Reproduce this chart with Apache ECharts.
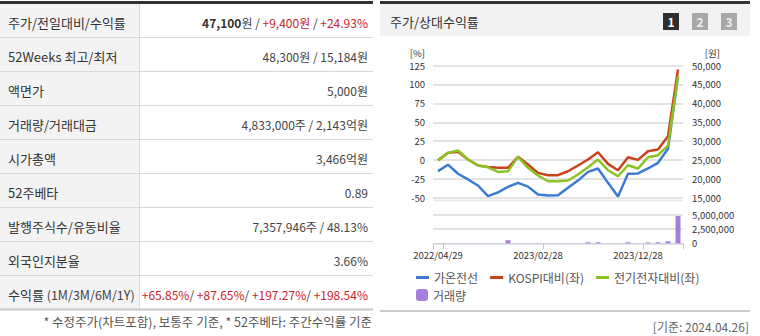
<!DOCTYPE html>
<html><head><meta charset="utf-8">
<script src="https://cdn.jsdelivr.net/npm/echarts@6/dist/echarts.min.js"></script>
<style>html,body{margin:0;padding:0;background:#fff}#c{width:760px;height:336px}</style>
</head><body><div id="c"></div>
<script>
// ---- chart data ----
const dates = ['2022/04/29','2022/05/31','2022/06/30','2022/07/29','2022/08/31','2022/09/30','2022/10/31','2022/11/30','2022/12/29','2023/01/31','2023/02/28','2023/03/31','2023/04/28','2023/05/31','2023/06/30','2023/07/31','2023/08/31','2023/09/27','2023/10/31','2023/11/30','2023/12/28','2024/01/31','2024/02/29','2024/03/29','2024/04/26'];
const priceWon = [22100,23800,21400,19900,18300,15500,16500,17950,19000,18000,15900,15650,15700,17700,19600,21900,22800,19000,15400,21400,21500,22800,24300,28000,47100];
const kospiRel = [0,9.6,11.0,0.8,-7.1,-8.9,-10.2,-10.2,4.4,-5.8,-16.8,-19.9,-19.9,-14.7,-7.1,0.8,10.4,-4.9,-13.3,3.8,0.4,11.8,14.0,31.6,119.7];
const sectorRel = [0,9.6,12.7,0.8,-7.1,-9.5,-15.5,-14.7,4.4,-10.2,-20.3,-27.9,-27.9,-26.9,-19.0,-9.4,0.8,-13.3,-21.3,-6.7,-11.1,3.8,6.5,19.3,110.8];
const volume = [20000,20000,20000,20000,20000,20000,20000,550000,20000,20000,20000,20000,20000,20000,20000,180000,180000,20000,20000,180000,20000,150000,180000,360000,4833000];
const seriesNames = ['가온전선','KOSPI대비(좌)','전기전자대비(좌)','거래량'];
const pctAxis = {min:-50, max:125, step:25};
const wonAxis = {min:15000, max:50000, step:5000};
const volAxis = {min:0, max:5000000, step:2500000};
const xLabelEvery = 10;
const xTickIdx = [0,1,11,21];

// ---- table data ----
const tableLabels = ['주가/전일대비/수익률','52Weeks 최고/최저','액면가','거래량/거래대금','시가총액','52주베타','발행주식수/유동비율','외국인지분율','수익률'];
const returnPeriods = ' (1M/3M/6M/1Y)';
const priceNow = '47,100', priceChg = '+9,400원', priceRet = '+24.93%';
const tableValues = ['','48,300원 / 15,184원','5,000원','4,833,000주 / 2,143억원','3,466억원','0.89','7,357,946주 / 48.13%','3.66%',''];
const periodReturns = ['+65.85%','+87.65%','+197.27%','+198.54%'];
const footNote = '* 수정주가(차트포함), 보통주 기준, * 52주베타: 주간수익률 기준';
const panelTitle = '주가/상대수익률';
const baseDate = '[기준: 2024.04.26]';

const FF = '"Noto Sans CJK KR", "Noto Sans", sans-serif';
const fmt = v => Number(v).toLocaleString('en-US');

const g = [];
// left table
const rowB = [4, 37.5, 71.5, 105.5, 139.5, 173.5, 207.5, 241.5, 275.5, 309.5];
g.push({type:'rect', shape:{x:0,y:4,width:139,height:305}, style:{fill:'#f3f3f3'}, silent:true});
g.push({type:'rect', shape:{x:0,y:1,width:373,height:3}, style:{fill:'#333'}, silent:true});
for (let i=1;i<rowB.length-1;i++) g.push({type:'line', shape:{x1:0,y1:rowB[i],x2:373,y2:rowB[i]}, style:{stroke:'#d8d8d8',lineWidth:1}, silent:true});
g.push({type:'line', shape:{x1:139.5,y1:4,x2:139.5,y2:309}, style:{stroke:'#d8d8d8',lineWidth:1}, silent:true});
g.push({type:'rect', shape:{x:0,y:308.5,width:373,height:2}, style:{fill:'#c8c8c8'}, silent:true});
const last = tableLabels.length-1;
tableLabels.forEach((t,i)=>{
  const cy = (rowB[i]+rowB[i+1])/2 + 1.5;
  const ls = {text:t, x:8, y:cy, fill:'#333', fontSize:13, fontFamily:FF, textAlign:'left', textVerticalAlign:'middle'};
  if (i===last) {
    ls.text = '{a|'+t+'}{p|'+returnPeriods+'}';
    ls.rich = {a:{fill:'#333',fontSize:13,fontFamily:FF}, p:{fill:'#444',fontSize:12.5,fontFamily:FF}};
  }
  g.push({type:'text', style:ls, silent:true});
  let val = tableValues[i];
  let rich = null;
  if (i===0) {
    val = '{b|'+priceNow+'}{n|원 / }{r|'+priceChg+'}{n| / }{r|'+priceRet+'}';
  } else if (i===last) {
    val = periodReturns.map(v=>'{r|'+v+'}').join('{n|/ }');
  }
  if (i===0 || i===last) {
    rich = {b:{fontWeight:'bold',fill:'#333',fontSize:12,fontFamily:FF}, n:{fill:'#444',fontSize:12,fontFamily:FF}, r:{fill:'#c8232c',fontSize:12,fontFamily:FF}};
  }
  const st = {text:val, x:368, y:cy, fill:'#444', fontSize:12, fontFamily:FF, textAlign:'right', textVerticalAlign:'middle'};
  if (rich) st.rich = rich;
  g.push({type:'text', style:st, silent:true});
});
g.push({type:'text', style:{text:footNote, x:372, y:321, fill:'#555', fontSize:12.5, fontFamily:FF, textAlign:'right', textVerticalAlign:'middle'}, silent:true});

// right panel frame
g.push({type:'rect', shape:{x:380,y:4,width:370,height:32}, style:{fill:'#f2f2f2'}, silent:true});
g.push({type:'rect', shape:{x:380,y:1,width:370,height:3}, style:{fill:'#333'}, silent:true});
g.push({type:'text', style:{text:panelTitle, x:390, y:21, fill:'#333', fontSize:13, fontFamily:FF, textVerticalAlign:'middle'}, silent:true});
[['1','#2e2e2e','#fff',663],['2','#a8a8a8','#eee',692],['3','#a8a8a8','#eee',721]].forEach(b=>{
  g.push({type:'rect', shape:{x:b[3],y:13,width:16,height:17}, style:{fill:b[1]}, silent:true});
  g.push({type:'text', style:{text:b[0], x:b[3]+8, y:21.5, fill:b[2], fontSize:12, fontWeight:'bold', fontFamily:FF, textAlign:'center', textVerticalAlign:'middle'}, silent:true});
});
g.push({type:'text', style:{text:'[%]', x:425, y:52.5, fill:'#333', fontSize:9.5, fontFamily:FF, textAlign:'right', textVerticalAlign:'middle'}, silent:true});
g.push({type:'text', style:{text:'[원]', x:720, y:52.5, fill:'#333', fontSize:9.5, fontFamily:FF, textAlign:'right', textVerticalAlign:'middle'}, silent:true});
g.push({type:'line', shape:{x1:433,y1:200.5,x2:683,y2:200.5}, style:{stroke:'#e6e6e6',lineWidth:1.5}, silent:true});
g.push({type:'rect', shape:{x:380,y:310,width:370,height:2}, style:{fill:'#cccccc'}, silent:true});
g.push({type:'text', style:{text:baseDate, x:749, y:326.5, fill:'#666', fontSize:12, fontFamily:FF, textAlign:'right', textVerticalAlign:'middle'}, silent:true});

const axLbl = {fontSize:9.5, color:'#333', fontFamily:FF};
const chart = echarts.init(document.getElementById('c'), null, {renderer:'svg'});
chart.setOption({
  animation:false,
  textStyle:{fontFamily:FF},
  grid:[
    {left:433, width:250, top:65.5, height:132.5},
    {left:433, width:250, top:215, height:28.3}
  ],
  xAxis:[
    {type:'category', gridIndex:0, data:dates, boundaryGap:true, show:false},
    {type:'category', gridIndex:1, data:dates, boundaryGap:true,
     axisLine:{show:true, lineStyle:{color:'#cfd8e2', width:1}},
     axisTick:{show:true, length:6, interval:(idx)=>xTickIdx.indexOf(idx)>=0, lineStyle:{color:'#b9c8d8'}},
     axisLabel:{interval:xLabelEvery-1, margin:7, ...axLbl}}
  ],
  yAxis:[
    {type:'value', gridIndex:0, position:'left', min:pctAxis.min, max:pctAxis.max, interval:pctAxis.step,
     axisLine:{show:false}, axisTick:{show:false}, axisLabel:{margin:8, ...axLbl},
     splitLine:{show:true, lineStyle:{color:'#e3e3e3', width:2}}},
    {type:'value', gridIndex:0, position:'right', min:wonAxis.min, max:wonAxis.max, interval:wonAxis.step,
     axisLine:{show:false}, axisTick:{show:false}, axisLabel:{margin:9, formatter:fmt, ...axLbl}, splitLine:{show:false}},
    {type:'value', gridIndex:1, position:'right', min:volAxis.min, max:volAxis.max, interval:volAxis.step,
     axisLine:{show:false}, axisTick:{show:false}, axisLabel:{margin:9, formatter:fmt, ...axLbl},
     splitLine:{show:true, lineStyle:{color:'#e3e3e3', width:2}}}
  ],
  legend:[
    {data:seriesNames.slice(0,3), left:416, top:271, icon:'rect', itemWidth:13, itemHeight:3, itemGap:12,
     textStyle:{fontSize:12, color:'#555', fontFamily:FF, lineHeight:13}, selectedMode:false, padding:0},
    {data:[seriesNames[3]], left:416, top:288.5, icon:'roundRect', itemWidth:12, itemHeight:12,
     textStyle:{fontSize:12, color:'#555', fontFamily:FF, lineHeight:13}, selectedMode:false, padding:0}
  ],
  series:[
    {name:seriesNames[0], type:'line', xAxisIndex:0, yAxisIndex:1, data:priceWon, symbol:'none', color:'#3b7bd4', lineStyle:{width:2.5}, z:3},
    {name:seriesNames[1], type:'line', xAxisIndex:0, yAxisIndex:0, data:kospiRel, symbol:'none', color:'#c9421b', lineStyle:{width:2.5}, z:4},
    {name:seriesNames[2], type:'line', xAxisIndex:0, yAxisIndex:0, data:sectorRel, symbol:'none', color:'#8cc224', lineStyle:{width:2.5}, z:5},
    {name:seriesNames[3], type:'bar', xAxisIndex:1, yAxisIndex:2, data:volume, barWidth:5, color:'#a67edc'}
  ],
  graphic:g
});
</script></body></html>
